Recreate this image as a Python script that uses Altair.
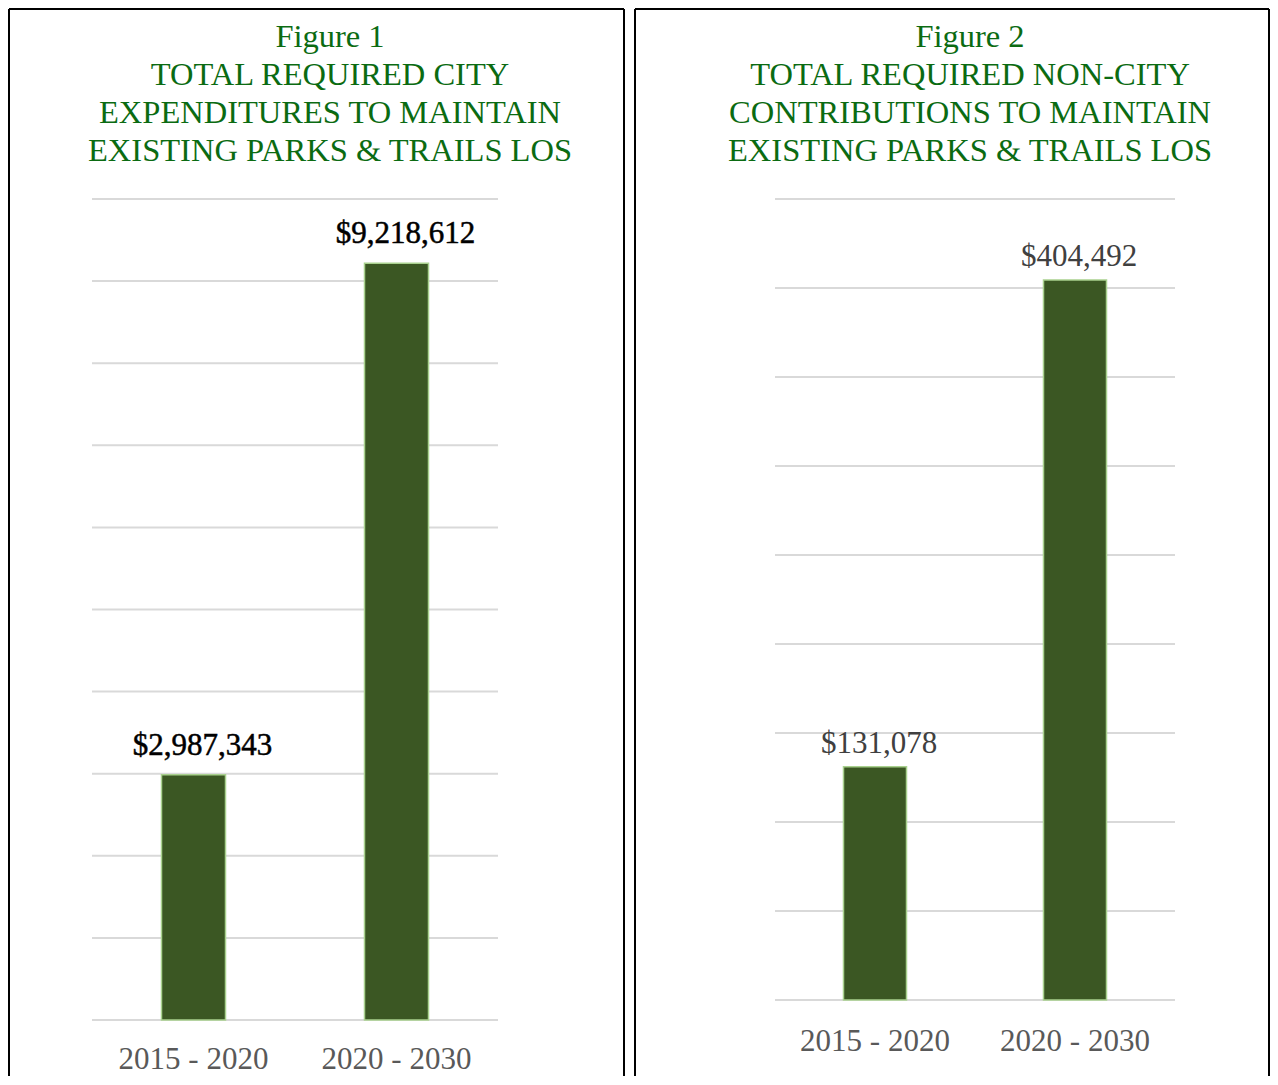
import altair as alt
import pandas as pd

# ---- data ----
categories = ["2015 - 2020", "2020 - 2030"]
city_values = [2987343, 9218612]
noncity_values = [131078, 404492]
city_ticks = [0, 1000000, 2000000, 3000000, 4000000, 5000000, 6000000, 7000000, 8000000, 9000000, 10000000]
noncity_ticks = [0, 50000, 100000, 150000, 200000, 250000, 300000, 350000, 400000, 450000]
title1 = ["Figure 1", "TOTAL REQUIRED CITY", "EXPENDITURES TO MAINTAIN", "EXISTING PARKS & TRAILS LOS"]
title2 = ["Figure 2", "TOTAL REQUIRED NON-CITY", "CONTRIBUTIONS TO MAINTAIN", "EXISTING PARKS & TRAILS LOS"]

FONT = "Liberation Serif"
TITLE_COLOR = "#0b6b12"
BAR_COLOR = "#3b5723"
BAR_STROKE = "#a9d18e"
GRID_COLOR = "#d9d9d9"
H = 1068


def panel(values, ticks, domain_max, title_lines, width, border_right,
          x_range, y_range, title_x, label_color, label_dx, label_dy,
          label_stroke, cat_y, bar_w):
    df = pd.DataFrame({"cat": categories, "value": values})
    gdf = pd.DataFrame({"t": ticks})
    one = pd.DataFrame({"k": [0]})

    xs = alt.Scale(domain=categories, range=x_range, paddingInner=0, paddingOuter=0)
    ys = alt.Scale(domain=[0, domain_max], range=y_range, nice=False, zero=True)

    left = alt.Chart(one).mark_rule(color="black", strokeWidth=2).encode(
        x=alt.value(1), y=alt.value(1), y2=alt.value(H))
    top = alt.Chart(one).mark_rule(color="black", strokeWidth=2).encode(
        x=alt.value(1), x2=alt.value(border_right), y=alt.value(1))
    right = alt.Chart(one).mark_rule(color="black", strokeWidth=2).encode(
        x=alt.value(border_right), y=alt.value(1), y2=alt.value(H))

    grid = alt.Chart(gdf).mark_rule(color=GRID_COLOR, strokeWidth=2).encode(
        y=alt.Y("t:Q", scale=ys, axis=None),
        x=alt.value(x_range[0]), x2=alt.value(x_range[1]))

    bars = alt.Chart(df).mark_bar(color=BAR_COLOR, stroke=BAR_STROKE,
                                  strokeWidth=1.5, width=bar_w).encode(
        x=alt.X("cat:N", scale=xs, axis=None, sort=categories),
        y=alt.Y("value:Q", scale=ys, axis=None))

    vlabels = alt.Chart(df).mark_text(font=FONT, fontSize=31, color=label_color,
                                      stroke=label_color, strokeWidth=label_stroke,
                                      baseline="alphabetic", dx=label_dx,
                                      dy=label_dy).encode(
        x=alt.X("cat:N", scale=xs, axis=None, sort=categories),
        y=alt.Y("value:Q", scale=ys, axis=None),
        text=alt.Text("value:Q", format="$,"))

    clabels = alt.Chart(df).mark_text(font=FONT, fontSize=31, color="#595959",
                                      baseline="alphabetic").encode(
        x=alt.X("cat:N", scale=xs, axis=None, sort=categories),
        y=alt.value(cat_y),
        text="cat:N")

    ttl = alt.Chart(one).mark_text(font=FONT, fontSize=32.5, color=TITLE_COLOR,
                                   baseline="alphabetic", align="center",
                                   lineHeight=38).encode(
        x=alt.value(title_x), y=alt.value(39),
        text=alt.value(title_lines))

    return alt.layer(left, top, right, grid, bars, vlabels, clabels, ttl).properties(
        width=width, height=H)


p1 = panel(city_values, city_ticks, 10000000, title1, width=618, border_right=616,
           x_range=[84, 490], y_range=[1012, 191], title_x=322,
           label_color="#000000", label_dx=9, label_dy=-20, label_stroke=0.5,
           cat_y=1061, bar_w=64)
p2 = panel(noncity_values, noncity_ticks, 450000, title2, width=636, border_right=635,
           x_range=[141, 541], y_range=[992, 191], title_x=336,
           label_color="#404040", label_dx=4, label_dy=-14, label_stroke=0,
           cat_y=1043, bar_w=63)

chart = alt.hconcat(p1, p2, spacing=8).properties(padding=0).configure_view(stroke=None)

chart.save("out.html", embed_options={"renderer": "svg", "actions": False})
